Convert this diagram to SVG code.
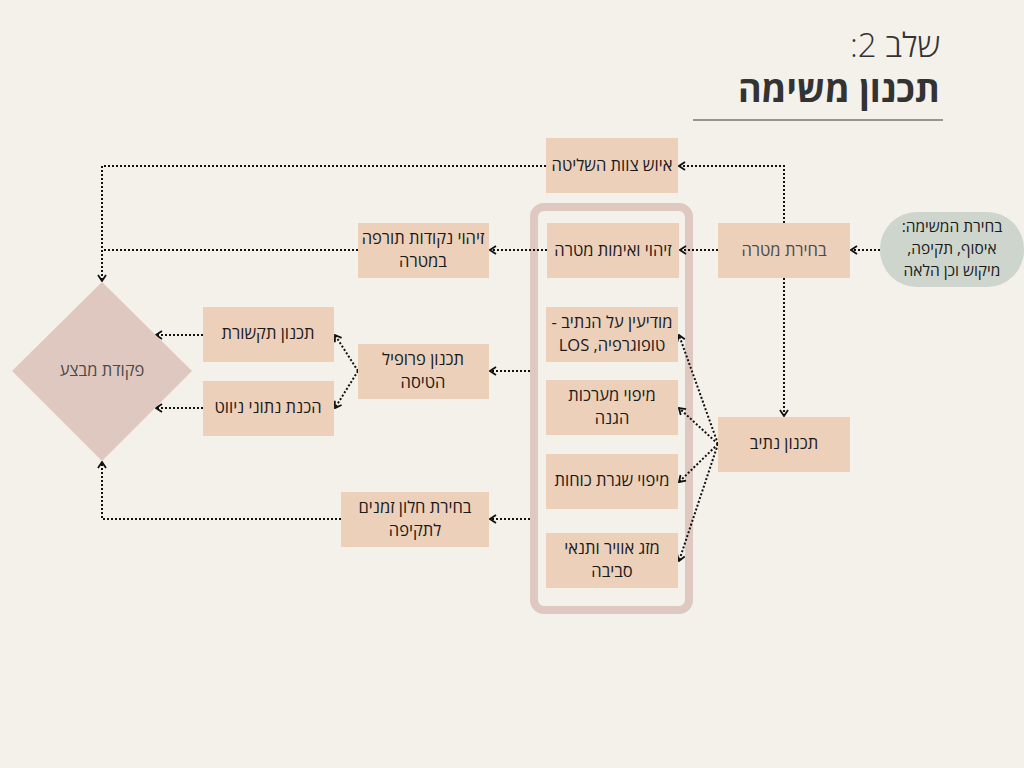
<svg xmlns="http://www.w3.org/2000/svg" width="1024" height="768" viewBox="0 0 1024 768">
<defs>
<style>
.bx{fill:#ECD0BA}
.t{font-family:"Open Sans","DejaVu Sans",sans-serif;font-size:16.5px;fill:#1a1a1a;text-anchor:middle;direction:rtl}
.s{font-size:15.5px}
.g{fill:#4a4a4a}
.c{fill:none;stroke:#111;stroke-width:2;stroke-dasharray:2 2}
</style>
<marker id="a" viewBox="0 0 8 10" refX="7" refY="5" markerWidth="8" markerHeight="10" markerUnits="userSpaceOnUse" orient="auto">
<path d="M1,1 L7,5 L1,9" fill="none" stroke="#111" stroke-width="1.8"/>
</marker>
</defs>
<rect width="1024" height="768" fill="#F4F0EA"/>
<g id="title">
<text x="940" y="57" direction="rtl" text-anchor="start" font-family="'Open Sans','DejaVu Sans',sans-serif" font-size="33" font-weight="300" fill="#333">שלב 2:</text>
<text x="940" y="102" direction="rtl" text-anchor="start" font-family="'Open Sans','DejaVu Sans',sans-serif" font-size="36" font-weight="700" fill="#333">תכנון משימה</text>
<line x1="693" y1="120" x2="943" y2="120" stroke="#777" stroke-width="1.5"/>
</g>
<g id="container"><rect x="534" y="207" width="155" height="403" rx="10" fill="none" stroke="#DFC8BF" stroke-width="8"/></g>
<g id="connectors">
<path class="c" d="M784,223 V166 H679" marker-end="url(#a)"/>
<path class="c" d="M546,166 H102 V281" marker-end="url(#a)"/>
<path class="c" d="M718,250 H680" marker-end="url(#a)"/>
<path class="c" d="M547,250 H490" marker-end="url(#a)"/>
<path class="c" d="M358,250 H102"/>
<path class="c" d="M880,250 H851" marker-end="url(#a)"/>
<path class="c" d="M784,278 V416" marker-end="url(#a)"/>
<path class="c" d="M718,444 L679,335" marker-end="url(#a)"/>
<path class="c" d="M718,444 L679,408" marker-end="url(#a)"/>
<path class="c" d="M718,444 L679,482" marker-end="url(#a)"/>
<path class="c" d="M718,444 L679,561" marker-end="url(#a)"/>
<path class="c" d="M530,371 H490" marker-end="url(#a)"/>
<path class="c" d="M358,371 L335,335" marker-end="url(#a)"/>
<path class="c" d="M358,371 L335,408" marker-end="url(#a)"/>
<path class="c" d="M203,335 H156" marker-end="url(#a)"/>
<path class="c" d="M203,408 H156" marker-end="url(#a)"/>
<path class="c" d="M530,519 H490" marker-end="url(#a)"/>
<path class="c" d="M341,519 H102 V462" marker-end="url(#a)"/>
</g>
<g id="n-crew"><rect class="bx" x="546" y="138" width="132" height="55"/><text class="t" x="612" y="171">איוש צוות השליטה</text></g>
<g id="n-verify"><rect class="bx" x="547" y="223" width="132" height="55"/><text class="t" x="613" y="256">זיהוי ואימות מטרה</text></g>
<g id="n-target"><rect class="bx" x="718" y="223" width="132" height="55"/><text class="t g" x="784" y="256">בחירת מטרה</text></g>
<g id="n-mission"><rect x="880" y="212" width="144" height="75" rx="37" fill="#CDD5CC"/>
<text class="t s" x="952" y="232">בחירת המשימה:</text><text class="t s" x="952" y="254">איסוף, תקיפה,</text><text class="t s" x="952" y="276">מיקוש וכן הלאה</text></g>
<g id="n-weak"><rect class="bx" x="358" y="223" width="131" height="55"/><text class="t" x="423" y="244">זיהוי נקודות תורפה</text><text class="t" x="423" y="267">במטרה</text></g>
<g id="n-intel"><rect class="bx" x="546" y="307" width="132" height="55"/><text class="t" x="612" y="328">מודיעין על הנתיב -</text><text class="t" x="612" y="351">טופוגרפיה, LOS</text></g>
<g id="n-defense"><rect class="bx" x="546" y="380" width="132" height="55"/><text class="t" x="612" y="401">מיפוי מערכות</text><text class="t" x="612" y="424">הגנה</text></g>
<g id="n-routine"><rect class="bx" x="546" y="454" width="132" height="55"/><text class="t" x="612" y="486">מיפוי שגרת כוחות</text></g>
<g id="n-weather"><rect class="bx" x="546" y="533" width="132" height="55"/><text class="t" x="612" y="554">מזג אוויר ותנאי</text><text class="t" x="612" y="577">סביבה</text></g>
<g id="n-route"><rect class="bx" x="718" y="417" width="132" height="55"/><text class="t" x="784" y="449">תכנון נתיב</text></g>
<g id="n-profile"><rect class="bx" x="358" y="344" width="131" height="55"/><text class="t" x="423" y="365">תכנון פרופיל</text><text class="t" x="423" y="388">הטיסה</text></g>
<g id="n-comm"><rect class="bx" x="203" y="307" width="131" height="55"/><text class="t" x="268" y="339">תכנון תקשורת</text></g>
<g id="n-nav"><rect class="bx" x="203" y="381" width="131" height="55"/><text class="t" x="268" y="413">הכנת נתוני ניווט</text></g>
<g id="n-window"><rect class="bx" x="341" y="492" width="148" height="55"/><text class="t" x="415" y="513">בחירת חלון זמנים</text><text class="t" x="415" y="536">לתקיפה</text></g>
<g id="n-order"><polygon points="102,282 192,371 102,461 12,371" fill="#DFC8BF"/><text class="t g" x="102" y="376">פקודת מבצע</text></g>
</svg>
